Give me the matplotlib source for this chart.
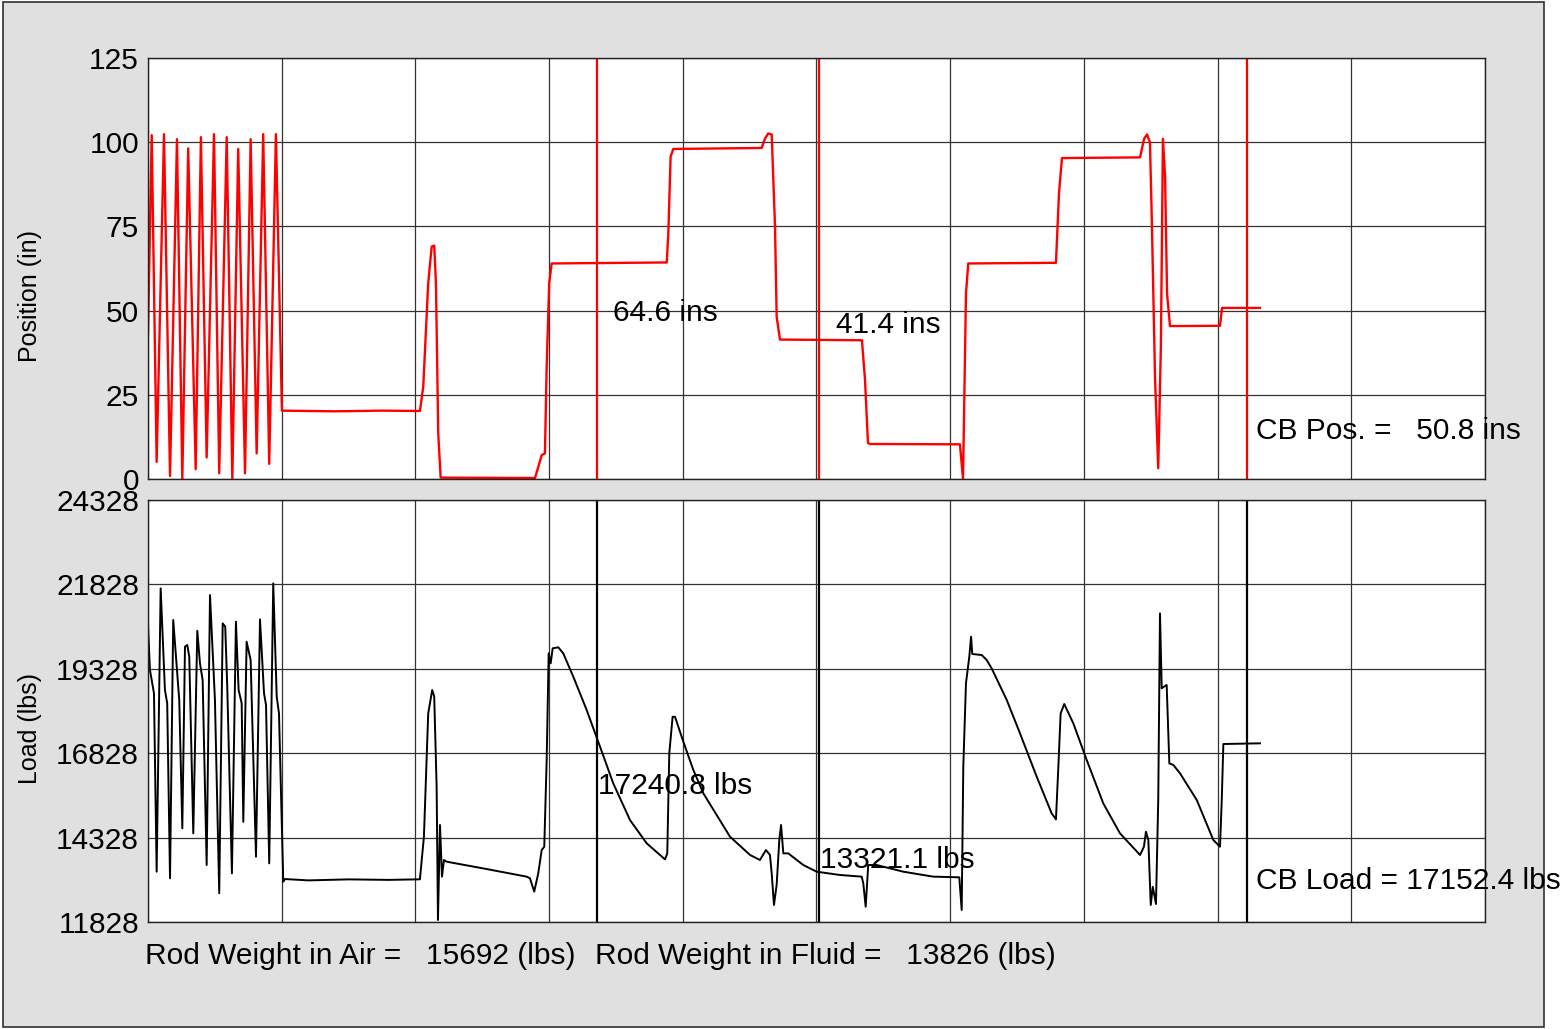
import matplotlib
matplotlib.use('Agg')
import matplotlib.pyplot as plt
from matplotlib.patches import Rectangle

plt.rcParams['font.family'] = ['Liberation Sans', 'DejaVu Sans']

# time axis in seconds, 0..100 (grid every 10 s)
pos_t = [0, 0.28, 0.65, 1.20, 1.65, 2.17, 2.57, 3.01, 3.57, 3.96, 4.39, 4.94, 5.33,
         5.89, 6.31, 6.75, 7.26, 7.68, 8.13, 8.62, 9.07, 9.57, 10.02,
         14.0, 17.5, 20.34, 20.59, 20.96, 21.22, 21.41, 21.54, 21.71, 21.89,
         28.95, 29.20, 29.45, 29.69, 29.82, 30.01, 30.19, 38.80, 38.92, 39.09, 39.29,
         45.90, 46.15, 46.39, 46.65, 46.90, 47.02, 47.27, 53.40, 53.63, 53.85, 54.00,
         60.73, 60.96, 61.18, 61.35, 67.91, 68.14, 68.36, 74.20, 74.50, 74.72, 74.94,
         75.09, 75.32, 75.56, 75.76, 75.91, 76.07, 76.22, 76.44, 80.18, 80.33, 83.17]
pos_in = [42.8, 102.1, 5.1, 102.4, 0.9, 100.9, 0.0, 98.2, 2.9, 101.5, 6.4, 102.4, 1.7,
          101.5, 0.0, 98.0, 1.7, 100.9, 7.6, 102.4, 4.5, 102.4, 20.3,
          20.1, 20.3, 20.2, 27.4, 58.1, 69.0, 69.3, 58.1, 13.6, 0.4,
          0.3, 3.7, 7.1, 7.6, 33.3, 58.1, 64.0, 64.3, 73.0, 95.7, 98.0,
          98.3, 101.1, 102.6, 102.3, 74.9, 48.2, 41.4, 41.2, 29.4, 10.7, 10.4,
          10.3, 0.0, 55.0, 64.0, 64.2, 85.0, 95.3, 95.5, 101.0, 102.3, 100.0,
          75.0, 30.0, 3.2, 40.0, 101.0, 90.0, 55.0, 45.4, 45.5, 50.8, 50.8]

load_t = [0, 0.15, 0.45, 0.65, 0.95, 1.27, 1.44, 1.65, 1.89, 2.34, 2.57, 2.77, 2.94,
          3.09, 3.39, 3.69, 3.89, 4.09, 4.39, 4.64, 5.01, 5.33, 5.59, 5.78, 5.93,
          6.28, 6.58, 6.78, 7.01, 7.13, 7.38, 7.68, 8.08, 8.38, 8.68, 8.83, 9.07,
          9.37, 9.63, 9.80, 10.12, 10.25, 12.0, 15.0, 18.0, 20.34,
          20.64, 20.96, 21.26, 21.41, 21.59, 21.69, 21.84, 21.99, 22.14, 22.34,
          25.28, 28.32, 28.57, 28.89, 29.19, 29.45, 29.64, 29.82, 29.97, 30.12,
          30.27, 30.69, 31.06, 31.81, 32.81, 33.81, 34.80, 36.05, 37.30, 38.67,
          38.84, 38.99, 39.24, 39.42, 40.04, 40.79, 41.54, 43.53, 45.03, 45.77,
          46.22, 46.52, 46.65, 46.82, 47.02, 47.22, 47.35, 47.52, 47.89, 49.01,
          50.01, 51.76, 53.38, 53.50, 53.68, 53.83, 53.87, 54.50, 56.49, 58.73,
          60.68, 60.86, 60.98, 61.18, 61.43, 61.56, 61.65, 62.36, 62.73, 63.10,
          64.23, 65.22, 66.47, 67.59, 67.91, 68.09, 68.26, 68.53, 69.21, 70.21,
          71.45, 72.70, 74.20, 74.49, 74.64, 74.82, 75.00, 75.15, 75.39, 75.56,
          75.69, 75.82, 75.99, 76.19, 76.39, 76.69, 77.19, 78.44, 79.68, 80.18,
          80.31, 80.43, 83.17]
load_lbs = [20625, 19292, 18602, 13318, 21709, 18700, 18306, 13122, 20773, 18404, 14603, 19982, 20033,
            19687, 14453, 20453, 19490, 18996, 13516, 21512, 18404, 12678, 20673, 20574, 18799,
            13269, 20723, 18700, 18306, 14796, 20128, 19588, 13762, 20792, 18602, 18256, 13565,
            21857, 18503, 18006, 13023, 13100, 13060, 13090, 13075, 13092,
            14355, 18006, 18700, 18503, 15835, 11887, 14701, 13171, 13664, 13614,
            13400, 13171, 13122, 12727, 13269, 13960, 14058, 16626, 19786, 19490,
            19934, 19964, 19786, 19095, 18108, 17022, 15934, 14849, 14158, 13683,
            13860, 16822, 17906, 17906, 17170, 16330, 15637, 14355, 13813, 13664,
            13960, 13813, 13269, 12332, 12924, 14257, 14701, 13860, 13860, 13516,
            13318, 13220, 13171, 12973, 12281, 13269, 13516, 13516, 13318, 13171,
            13151, 12183, 16428, 18897, 19687, 20279, 19766, 19736, 19588, 19341,
            18404, 17415, 16132, 15046, 14868, 16428, 18006, 18285, 17711, 16626,
            15341, 14453, 13813, 14058, 14502, 14257, 12332, 12871, 12361, 15442,
            20969, 18750, 18799, 18848, 16527, 16478, 16231, 15442, 14257, 14058,
            15442, 17100, 17120]

marker_t = [33.58, 50.19, 82.2]

pos_ticks = [0, 25, 50, 75, 100, 125]
load_ticks = [11828, 14328, 16828, 19328, 21828, 24328]

FS = 21.5

fig = plt.figure(figsize=(15.64, 10.29), dpi=100, facecolor='white')
fig.patches.append(Rectangle((3 / 1564, 2 / 1029), 1541 / 1564, 1025 / 1029,
                             transform=fig.transFigure, facecolor='#e0e0e0',
                             edgecolor='#303030', linewidth=1.2, zorder=-10))

ax1 = fig.add_axes([0.0946, 0.5345, 0.8549, 0.4091])
ax2 = fig.add_axes([0.0946, 0.1040, 0.8549, 0.4101])

for ax in (ax1, ax2):
    ax.set_facecolor('white')
    ax.set_xlim(0, 100)
    ax.set_xticks(range(0, 101, 10))
    ax.set_xticklabels([])
    ax.grid(True, color='#333333', linewidth=0.9)
    ax.set_axisbelow(True)
    ax.tick_params(axis='both', length=0, labelsize=FS, pad=6.5)
    for s in ax.spines.values():
        s.set_color('#222222')
        s.set_linewidth(1.0)

# position
ax1.plot(pos_t, pos_in, color='#ff0000', linewidth=1.7)
for t in marker_t:
    ax1.axvline(t, color='#ff0000', linewidth=1.6)
ax1.set_ylim(0, 125)
ax1.set_yticks(pos_ticks)
ax1.text(34.78, 49.3, '64.6 ins', fontsize=FS, va='center', ha='left')
ax1.text(51.46, 45.7, '41.4 ins', fontsize=FS, va='center', ha='left')
ax1.text(82.87, 14.2, 'CB Pos. =   50.8 ins', fontsize=FS, va='center', ha='left', clip_on=False)

# load
ax2.plot(load_t, load_lbs, color='black', linewidth=1.4)
for t in marker_t:
    ax2.axvline(t, color='black', linewidth=1.6)
ax2.set_ylim(11828, 24328)
ax2.set_yticks(load_ticks)
ax2.text(33.66, 15856, '17240.8 lbs', fontsize=FS, va='center', ha='left')
ax2.text(50.26, 13664, '13321.1 lbs', fontsize=FS, va='center', ha='left')
ax2.text(82.87, 13042, 'CB Load = 17152.4 lbs', fontsize=FS, va='center', ha='left', clip_on=False)

# axis titles sit off-centre in the original
fig.text(30 / 1564, 1 - 296 / 1029, 'Position (in)', fontsize=18, rotation=90, va='center', ha='center')
fig.text(30 / 1564, 1 - 728 / 1029, 'Load (lbs)', fontsize=18, rotation=90, va='center', ha='center')

fig.text(145 / 1564, 1 - 956 / 1029, 'Rod Weight in Air =   15692 (lbs)', fontsize=FS, va='center', ha='left')
fig.text(595 / 1564, 1 - 956 / 1029, 'Rod Weight in Fluid =   13826 (lbs)', fontsize=FS, va='center', ha='left')

fig.savefig('out.png', dpi=100, facecolor=fig.get_facecolor())
